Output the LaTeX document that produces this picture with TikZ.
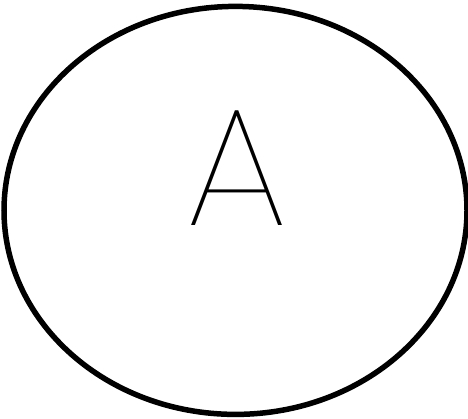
\documentclass[tikz,border=0pt]{standalone}
\usepackage{fontspec}
\newfontfamily\thinfont{Poppins}[UprightFont=* Thin]
\usetikzlibrary{shapes.geometric}
\tikzset{
  oval/.style={draw=black, line width=5.5pt, ellipse, inner sep=0pt},
  letter/.style={font=\thinfont\fontsize{168}{168}\selectfont, inner sep=0pt, anchor=center}
}
\begin{document}
\begin{tikzpicture}[x=1pt,y=1pt]
\useasboundingbox (0,0) rectangle (468,418);
\node[oval, minimum width=463pt, minimum height=408pt] (e) at (235.5,207.6) {};
\node[letter] (a) at (237,250) {A};
\end{tikzpicture}
\end{document}
